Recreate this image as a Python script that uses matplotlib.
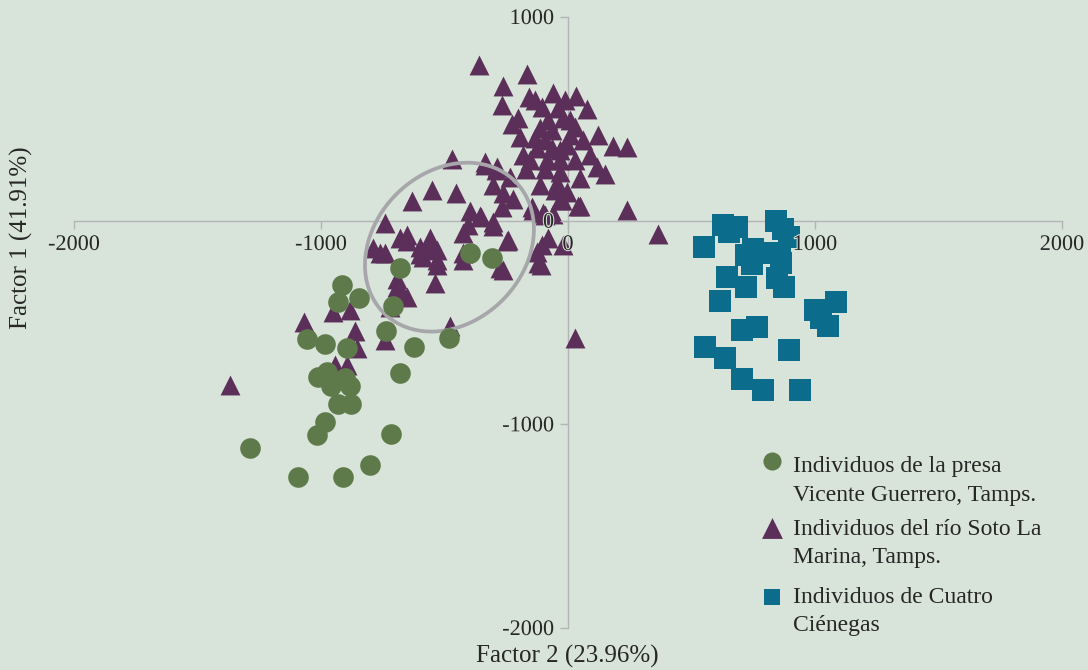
import numpy as np
import matplotlib.pyplot as plt
from matplotlib import patheffects

# Puntuaciones por individuo: (Factor 2, Factor 1)
presa = np.array([
    (-1288, -1117), (-1094, -1259), (-911, -1259), (-802, -1200), (-717, -1048),
    (-680, -749), (-1017, -1053), (-984, -989), (-932, -901), (-879, -901),
    (-960, -813), (-883, -813), (-1013, -768), (-976, -744), (-903, -773),
    (-1057, -582), (-984, -606), (-895, -626), (-737, -543), (-624, -621),
    (-915, -317), (-932, -400), (-846, -381), (-680, -233), (-709, -420),
    (-482, -577), (-397, -160), (-308, -184),
])

soto = np.array([
    (-360, 764), (-166, 719), (-263, 660), (-158, 606), (-61, 626), (-12, 592),
    (32, 611), (77, 547), (-105, 557), (-267, 567), (-227, 474), (-203, 503),
    (-113, 454), (-65, 444), (-20, 503), (28, 459), (-194, 410), (-126, 356),
    (-65, 356), (-4, 371), (122, 420), (182, 366), (239, 361), (-85, 297),
    (-32, 297), (28, 297), (117, 263), (150, 228), (-336, 273), (-288, 263),
    (-235, 214), (-170, 253), (-93, 253), (-304, 174), (-263, 135), (-223, 106),
    (-45, 184), (49, 209), (-4, 140), (41, 71), (-32, 101), (-146, 66),
    (-93, 27), (-267, 66), (-397, 47), (-352, 17), (-304, -7), (239, 52),
    (365, -66), (28, -577), (-81, -86), (-20, -120), (-126, -155), (-109, -218),
    (-243, -96), (-263, -243), (-142, 52), (-101, 37), (-24, 101), (49, 71),
    (-61, 32), (-81, 493), (8, 420), (-134, 405), (-32, 238), (-182, 322),
    (-134, 592), (-40, 553), (8, 494), (61, 396), (-93, 396), (-32, 346),
    (-154, 297), (89, 322), (-53, 150), (-113, 174),
    (-470, 302), (-336, 287), (-292, 248), (-551, 150), (-454, 135), (-632, 96),
    (-356, 22), (-304, -27), (-405, -22), (-425, -61), (-741, -12), (-652, -71),
    (-680, -86), (-790, -135), (-741, -160), (-559, -86), (-599, -130), (-531, -145),
    (-247, -101), (-425, -194), (-275, -233), (-539, -307), (-693, -287), (-668, -366),
    (-531, -218), (-478, -518), (-105, -120), (-122, -209), (-652, -101), (-761, -160),
    (-559, -135), (-599, -164), (-531, -194), (-587, -179), (-693, -327), (-652, -376),
    (-721, -425), (-952, -449), (-883, -439), (-1069, -498), (-863, -543), (-855, -626),
    (-741, -587), (-944, -710), (-895, -710), (-1369, -808), (-425, -160),
])

cienegas = np.array([
    (628, -22), (684, -32), (551, -130), (652, -56), (842, -2), (871, -42),
    (895, -81), (749, -140), (721, -169), (745, -214), (806, -160), (859, -160),
    (863, -209), (846, -282), (875, -327), (644, -277), (721, -327), (616, -395),
    (1000, -439), (1085, -400), (1025, -479), (1053, -518), (705, -538), (765, -523),
    (555, -621), (636, -675), (895, -636), (705, -778), (790, -832), (940, -832),
])

# elipse que agrupa individuos traslapados (centro y semiejes en unidades de datos)
elipse_centro = (-480, -130)
elipse_eje_a = (266, 323)
elipse_eje_b = (-215, 260)

etiquetas = [
    "Individuos de la presa\nVicente Guerrero, Tamps.",
    "Individuos del río Soto La\nMarina, Tamps.",
    "Individuos de Cuatro\nCiénegas",
]

fondo = '#d8e4d9'
verde = '#5e7a4b'
morado = '#5b2f59'
azul = '#0b6c8c'
gris = '#b3b3b8'
texto = '#262626'

plt.rcParams['font.family'] = ['Liberation Serif', 'DejaVu Serif']
plt.rcParams['axes.unicode_minus'] = False

fig = plt.figure(figsize=(10.88, 6.70), dpi=100, facecolor=fondo)
ax = fig.add_axes([74 / 1088, 1 - 628 / 670, 988 / 1088, 611 / 670])
ax.set_facecolor(fondo)

ax.scatter(soto[:, 0], soto[:, 1], s=205, marker='^', color=morado, linewidths=0, zorder=1)
t = np.linspace(0, 2 * np.pi, 300)
ex = elipse_centro[0] + np.cos(t) * elipse_eje_a[0] + np.sin(t) * elipse_eje_b[0]
ey = elipse_centro[1] + np.cos(t) * elipse_eje_a[1] + np.sin(t) * elipse_eje_b[1]
ax.plot(ex, ey, color='#a7a7ab', lw=2.7, zorder=1.2)
ax.scatter(presa[:, 0], presa[:, 1], s=220, marker='o', color=verde, linewidths=0, zorder=1.4)
ax.scatter(cienegas[:, 0], cienegas[:, 1], s=250, marker='s', color=azul, linewidths=0, zorder=1.4)

ax.set_xlim(-2000, 2000)
ax.set_ylim(-2000, 1000)
ax.spines['left'].set_position(('data', 0))
ax.spines['bottom'].set_position(('data', 0))
for side in ['top', 'right']:
    ax.spines[side].set_visible(False)
for side in ['left', 'bottom']:
    ax.spines[side].set_color(gris)
    ax.spines[side].set_linewidth(1.0)
    ax.spines[side].set_zorder(0.5)

ax.set_xticks([-2000, -1000, 0, 1000, 2000])
ax.set_yticks([-2000, -1000, 0, 1000])
ax.tick_params(axis='both', direction='out', length=6, width=1, color=gris,
               labelsize=16, labelcolor=texto)
ax.tick_params(axis='x', pad=5)
ax.tick_params(axis='y', pad=4)
ax.set_axisbelow(False)
halo = [patheffects.withStroke(linewidth=1.5, foreground=fondo)]
for lab in ax.get_xticklabels() + ax.get_yticklabels():
    lab.set_path_effects(halo)

ax.set_xlabel("Factor 2 (23.96%)", fontsize=18, color=texto, va='center')
ax.xaxis.set_label_coords(0.499, -0.047)
ax.set_ylabel("Factor 1 (41.91%)", fontsize=18, color=texto, va='center')
ax.yaxis.set_label_coords(-0.053, 0.638)

# leyenda con el marcador a la altura de la primera línea
W, H = 1088, 670
simbolos = [('o', verde, 170), ('^', morado, 225), ('s', azul, 135)]
marcador_y = [461, 528, 597]
base_y = [472, 535, 603]
for (m, c, s), my, by, lab in zip(simbolos, marcador_y, base_y, etiquetas):
    ax.scatter([772 / W], [1 - my / H], s=s, marker=m, color=c, linewidths=0,
               transform=fig.transFigure, clip_on=False)
    for i, linea in enumerate(lab.split('\n')):
        fig.text(793 / W, 1 - (by + i * 28.5) / H, linea, fontsize=17,
                 color=texto, ha='left', va='baseline')

fig.savefig('out.png', dpi=100, facecolor=fondo)
